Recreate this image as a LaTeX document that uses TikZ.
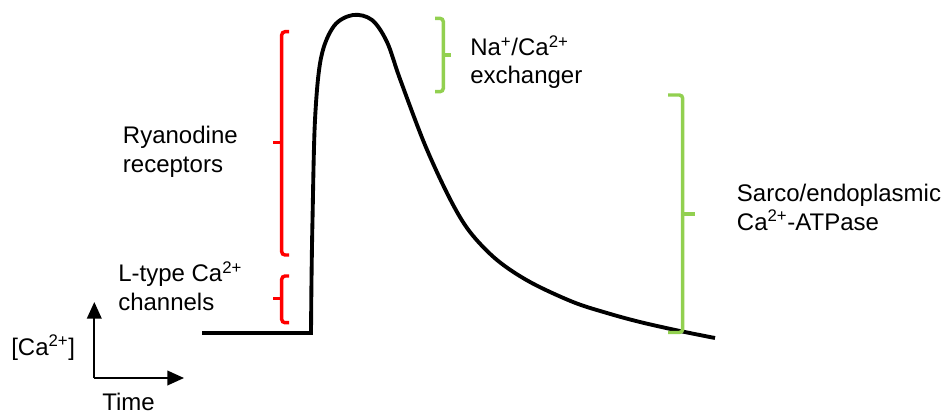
\documentclass[tikz,border=0pt]{standalone}
\usepackage{fontspec}
\setmainfont{Liberation Sans}
\usetikzlibrary{arrows.meta}
\definecolor{brred}{RGB}{255,0,0}
\definecolor{brgreen}{RGB}{146,208,80}
\begin{document}
\begin{tikzpicture}[x=0.75pt,y=-0.75pt,
  lbl/.style={anchor=base west,inner sep=0pt,font=\fontsize{18}{21.6}\selectfont},
  curve/.style={line width=2.9pt,line join=miter},
  redbrace/.style={draw=brred,line width=2.6pt,rounded corners=2.5pt},
  greenbrace/.style={draw=brgreen,line width=2.6pt,rounded corners=2.5pt},
  axis/.style={line width=1.3pt,-{Triangle[length=12.5pt,width=11pt]}}]
\useasboundingbox (0,0) rectangle (942,415);
% axes
\coordinate (o) at (94.3,378);
\coordinate (ytip) at (94.3,302);
\coordinate (xtip) at (184,378);
\draw[axis] (o) -- (ytip);
\draw[axis] (o) -- (xtip);
\node[lbl] (yl) at (11,355) {[Ca\textsuperscript{2+}]};
\node[lbl] (xl) at (102,410) {Time};
% transient
\coordinate (b0) at (202,333);
\coordinate (b1) at (311,333);
\draw[curve] (b0) -- (b1) -- plot[smooth,tension=0.55] coordinates {
 (311,333) (311.5,280) (312.5,220) (315,120) (321,58) (334,26) (353,15)
 (372,20) (387,42) (400,79) (425,145) (450,199) (470,232)
 (497,260) (530,282) (573,302) (607,313) (640,322) (680,331) (715,338)};
% red braces
\draw[redbrace] (289,31.7) -- (281.7,31.7) -- (281.7,255) -- (289,255);
\draw[redbrace] (281.7,142.7) -- (272.7,142.7);
\draw[redbrace] (289,276) -- (281.7,276) -- (281.7,322.7) -- (289,322.7);
\draw[redbrace] (281.7,298.5) -- (273,298.5);
% green braces
\draw[greenbrace] (435,18.3) -- (443.3,18.3) -- (443.3,91.7) -- (435,91.7);
\draw[greenbrace] (443.3,55) -- (451,55);
\draw[greenbrace] (668,95) -- (682.7,95) -- (682.7,332.5) -- (668,332.5);
\draw[greenbrace] (682.7,214) -- (695,214);
% labels
\node[lbl] (ryr1) at (122.7,143) {Ryanodine};
\node[lbl] (ryr2) at (122.7,172) {receptors};
\node[lbl] (ltc1) at (118,281.7) {L-type Ca\textsuperscript{2+}};
\node[lbl] (ltc2) at (118,310) {channels};
\node[lbl] (ncx1) at (470,55.7) {Na\textsuperscript{+}/Ca\textsuperscript{2+}};
\node[lbl] (ncx2) at (470,83) {exchanger};
\node[lbl] (serca1) at (736.7,201.7) {Sarco/endoplasmic};
\node[lbl] (serca2) at (736.7,230) {Ca\textsuperscript{2+}-ATPase};
\end{tikzpicture}
\end{document}
